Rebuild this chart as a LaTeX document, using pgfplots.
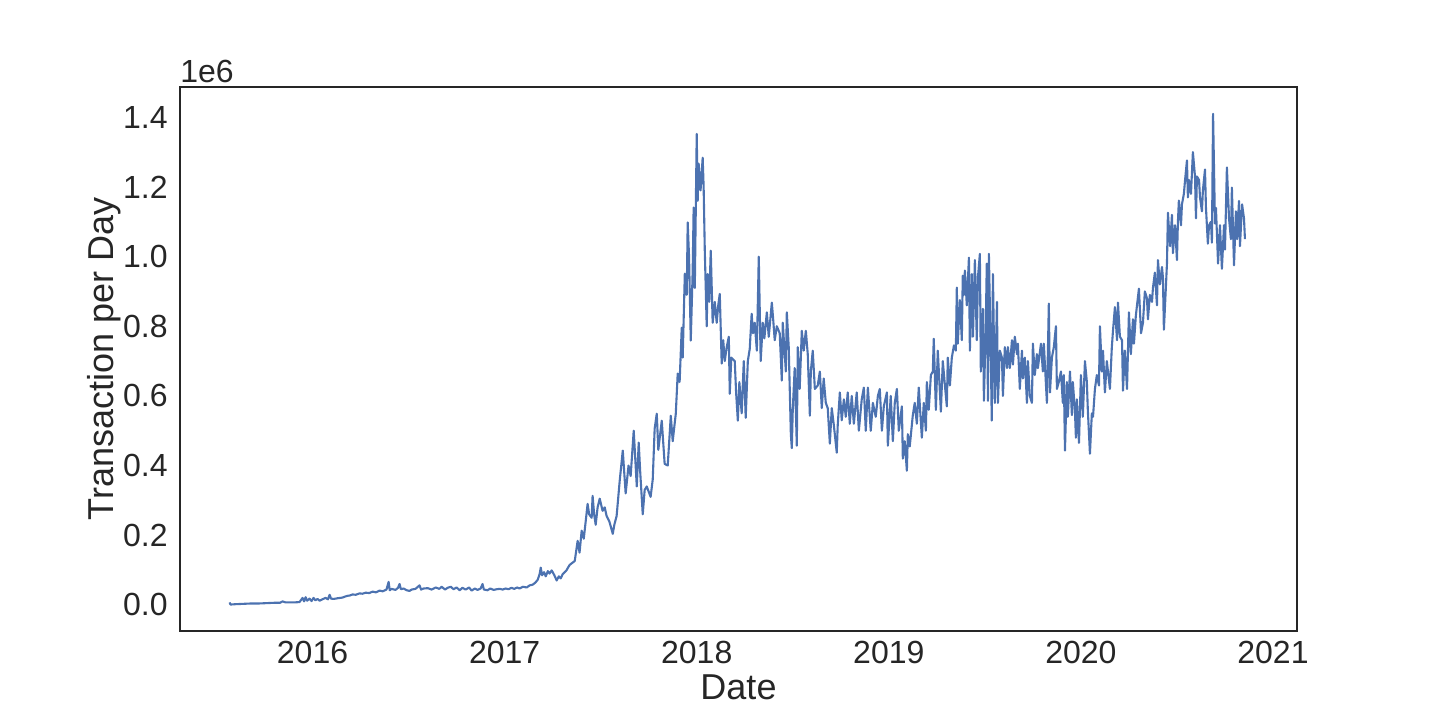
\documentclass[border=0pt]{standalone}
\usepackage{fontspec}
\setmainfont{Liberation Sans}
\usepackage{pgfplots}
\pgfplotsset{compat=1.18}
\definecolor{sbblue}{HTML}{4C72B0}
\definecolor{sbdark}{HTML}{262626}
\begin{document}
\begin{tikzpicture}
\path[use as bounding box] (-90bp,-44.5bp) rectangle (630bp,315.5bp);
\begin{axis}[
  name=ax,
  at={(0,0)}, anchor=south west,
  scale only axis, width=558.5bp, height=272bp,
  xmin=2015.31, xmax=2021.125,
  ymin=-0.075, ymax=1.487,
  axis line style={sbdark, line width=0.85bp},
  xtick={2016,2017,2018,2019,2020,2021},
  xticklabels={2016,2017,2018,2019,2020,2021},
  ytick={0,0.2,0.4,0.6,0.8,1.0,1.2,1.4},
  yticklabels={0.0,0.2,0.4,0.6,0.8,1.0,1.2,1.4},
  major tick length=0pt,
  tick label style={font=\fontsize{16bp}{18bp}\selectfont, text=sbdark, inner sep=0pt},
  xticklabel style={yshift=-5bp},
  yticklabel style={xshift=-6bp},
  every axis x label/.style={at={(axis description cs:0.5,-0.103)}, anchor=center},
  every axis y label/.style={at={(axis description cs:-0.068,0.5)}, anchor=center, rotate=90},
  label style={font=\fontsize{18bp}{21bp}\selectfont, text=sbdark},
  xlabel={Date}, ylabel={Transaction per Day},
]
\addplot[sbblue, line width=1.05bp, line join=round, no marks] table {
2015.568 0.007
2015.573 0.001
2015.600 0.002
2015.640 0.003
2015.680 0.004
2015.720 0.004
2015.760 0.005
2015.800 0.006
2015.830 0.006
2015.844 0.010
2015.860 0.007
2015.900 0.007
2015.932 0.008
2015.948 0.020
2015.956 0.010
2015.964 0.022
2015.972 0.012
2015.984 0.018
2015.995 0.011
2016.005 0.020
2016.015 0.013
2016.026 0.017
2016.037 0.012
2016.047 0.015
2016.068 0.020
2016.080 0.016
2016.089 0.029
2016.096 0.018
2016.110 0.017
2016.130 0.019
2016.156 0.021
2016.170 0.024
2016.182 0.026
2016.195 0.027
2016.208 0.030
2016.225 0.029
2016.245 0.033
2016.260 0.032
2016.276 0.035
2016.295 0.034
2016.313 0.038
2016.330 0.036
2016.349 0.041
2016.365 0.039
2016.385 0.044
2016.396 0.066
2016.402 0.042
2016.411 0.046
2016.432 0.043
2016.445 0.049
2016.453 0.060
2016.460 0.045
2016.474 0.047
2016.490 0.042
2016.505 0.040
2016.516 0.044
2016.536 0.046
2016.557 0.056
2016.565 0.044
2016.578 0.047
2016.600 0.048
2016.620 0.044
2016.641 0.050
2016.660 0.046
2016.672 0.052
2016.690 0.044
2016.703 0.049
2016.720 0.052
2016.734 0.045
2016.750 0.050
2016.766 0.042
2016.780 0.049
2016.797 0.044
2016.815 0.050
2016.828 0.041
2016.845 0.047
2016.859 0.043
2016.875 0.047
2016.885 0.060
2016.892 0.044
2016.911 0.042
2016.925 0.047
2016.943 0.043
2016.960 0.045
2016.974 0.046
2016.990 0.044
2017.005 0.047
2017.020 0.045
2017.036 0.049
2017.050 0.046
2017.065 0.050
2017.078 0.047
2017.095 0.052
2017.115 0.050
2017.130 0.056
2017.146 0.058
2017.160 0.064
2017.172 0.072
2017.182 0.088
2017.188 0.107
2017.195 0.085
2017.205 0.094
2017.214 0.082
2017.225 0.097
2017.234 0.090
2017.245 0.099
2017.258 0.086
2017.271 0.070
2017.282 0.082
2017.292 0.076
2017.302 0.088
2017.313 0.094
2017.323 0.100
2017.331 0.108
2017.339 0.115
2017.365 0.126
2017.380 0.184
2017.390 0.150
2017.401 0.213
2017.412 0.190
2017.432 0.290
2017.440 0.260
2017.453 0.250
2017.458 0.313
2017.466 0.260
2017.474 0.230
2017.484 0.280
2017.495 0.305
2017.510 0.270
2017.521 0.280
2017.531 0.255
2017.545 0.240
2017.563 0.204
2017.571 0.230
2017.583 0.255
2017.599 0.356
2017.615 0.443
2017.630 0.320
2017.645 0.400
2017.656 0.370
2017.672 0.500
2017.688 0.340
2017.698 0.466
2017.706 0.380
2017.719 0.260
2017.729 0.330
2017.740 0.340
2017.760 0.310
2017.771 0.360
2017.781 0.506
2017.792 0.549
2017.800 0.445
2017.818 0.529
2017.833 0.405
2017.849 0.400
2017.865 0.543
2017.875 0.470
2017.891 0.549
2017.901 0.664
2017.911 0.640
2017.922 0.796
2017.927 0.710
2017.938 0.951
2017.948 0.890
2017.953 1.098
2017.960 1.000
2017.969 0.759
2017.979 0.960
2017.984 1.141
2017.990 0.910
2018.000 1.352
2018.005 1.160
2018.010 1.267
2018.020 1.190
2018.031 1.284
2018.036 1.200
2018.042 1.017
2018.052 0.800
2018.057 0.950
2018.065 0.870
2018.073 1.017
2018.083 0.810
2018.094 0.870
2018.104 0.810
2018.112 0.860
2018.120 0.893
2018.130 0.693
2018.138 0.760
2018.146 0.700
2018.156 0.740
2018.167 0.770
2018.172 0.606
2018.180 0.710
2018.198 0.700
2018.205 0.610
2018.214 0.529
2018.222 0.640
2018.234 0.550
2018.245 0.700
2018.255 0.537
2018.266 0.700
2018.276 0.735
2018.286 0.836
2018.293 0.780
2018.302 0.810
2018.313 0.730
2018.323 1.000
2018.333 0.700
2018.344 0.810
2018.352 0.765
2018.365 0.840
2018.375 0.770
2018.391 0.868
2018.398 0.820
2018.406 0.760
2018.417 0.800
2018.432 0.780
2018.443 0.644
2018.448 0.810
2018.464 0.670
2018.469 0.840
2018.479 0.740
2018.490 0.490
2018.495 0.450
2018.500 0.560
2018.510 0.680
2018.521 0.457
2018.526 0.740
2018.536 0.620
2018.547 0.787
2018.557 0.730
2018.568 0.787
2018.578 0.720
2018.589 0.543
2018.594 0.670
2018.604 0.730
2018.615 0.620
2018.630 0.630
2018.641 0.670
2018.651 0.565
2018.661 0.650
2018.672 0.580
2018.682 0.565
2018.693 0.463
2018.703 0.565
2018.714 0.515
2018.729 0.437
2018.734 0.515
2018.745 0.610
2018.755 0.530
2018.766 0.590
2018.776 0.540
2018.786 0.610
2018.797 0.520
2018.807 0.600
2018.818 0.520
2018.833 0.610
2018.844 0.500
2018.859 0.590
2018.870 0.624
2018.880 0.500
2018.891 0.624
2018.906 0.500
2018.917 0.580
2018.932 0.540
2018.943 0.600
2018.953 0.620
2018.964 0.500
2018.974 0.570
2018.990 0.610
2018.995 0.457
2019.010 0.600
2019.021 0.470
2019.031 0.580
2019.042 0.620
2019.052 0.500
2019.068 0.570
2019.073 0.420
2019.083 0.470
2019.094 0.385
2019.099 0.490
2019.109 0.455
2019.125 0.545
2019.135 0.580
2019.146 0.520
2019.156 0.624
2019.164 0.550
2019.172 0.480
2019.182 0.580
2019.193 0.500
2019.198 0.640
2019.208 0.560
2019.219 0.660
2019.229 0.670
2019.234 0.764
2019.245 0.560
2019.255 0.730
2019.271 0.555
2019.281 0.700
2019.292 0.630
2019.302 0.570
2019.307 0.710
2019.318 0.630
2019.328 0.710
2019.339 0.745
2019.349 0.730
2019.354 0.911
2019.359 0.750
2019.370 0.875
2019.380 0.760
2019.385 0.945
2019.391 0.890
2019.396 0.960
2019.406 0.860
2019.417 0.997
2019.422 0.730
2019.432 0.950
2019.438 0.770
2019.448 0.990
2019.458 0.760
2019.464 0.940
2019.474 1.008
2019.479 0.670
2019.490 0.850
2019.495 0.586
2019.505 0.810
2019.510 0.980
2019.516 0.586
2019.521 1.008
2019.531 0.710
2019.536 0.529
2019.542 0.950
2019.552 0.580
2019.563 0.870
2019.568 0.580
2019.578 0.730
2019.589 0.710
2019.594 0.600
2019.604 0.740
2019.615 0.680
2019.620 0.740
2019.630 0.680
2019.641 0.760
2019.646 0.690
2019.656 0.770
2019.667 0.720
2019.672 0.750
2019.682 0.620
2019.693 0.730
2019.698 0.650
2019.708 0.710
2019.719 0.580
2019.724 0.700
2019.734 0.600
2019.745 0.580
2019.750 0.750
2019.760 0.660
2019.771 0.720
2019.776 0.680
2019.792 0.750
2019.802 0.670
2019.807 0.750
2019.823 0.580
2019.833 0.865
2019.839 0.610
2019.849 0.710
2019.859 0.740
2019.870 0.800
2019.875 0.620
2019.885 0.640
2019.896 0.670
2019.906 0.580
2019.911 0.660
2019.917 0.443
2019.927 0.640
2019.932 0.540
2019.943 0.670
2019.953 0.545
2019.958 0.640
2019.969 0.555
2019.974 0.480
2019.979 0.590
2019.990 0.465
2020.000 0.660
2020.010 0.540
2020.021 0.700
2020.031 0.640
2020.036 0.560
2020.047 0.434
2020.057 0.550
2020.063 0.540
2020.073 0.620
2020.083 0.660
2020.094 0.630
2020.099 0.800
2020.109 0.670
2020.115 0.730
2020.125 0.610
2020.135 0.700
2020.141 0.670
2020.151 0.620
2020.161 0.740
2020.167 0.787
2020.177 0.855
2020.188 0.760
2020.193 0.868
2020.203 0.770
2020.214 0.760
2020.219 0.615
2020.229 0.730
2020.240 0.620
2020.250 0.840
2020.260 0.720
2020.271 0.820
2020.276 0.750
2020.286 0.830
2020.292 0.860
2020.302 0.908
2020.313 0.780
2020.323 0.810
2020.333 0.900
2020.344 0.880
2020.349 0.820
2020.359 0.890
2020.370 0.870
2020.375 0.910
2020.385 0.954
2020.396 0.860
2020.401 0.990
2020.411 0.920
2020.422 0.970
2020.427 0.940
2020.432 0.790
2020.443 0.920
2020.448 0.980
2020.453 1.126
2020.464 1.030
2020.474 1.120
2020.479 1.010
2020.490 1.090
2020.500 0.990
2020.505 1.100
2020.510 1.161
2020.521 1.090
2020.526 1.150
2020.536 1.180
2020.542 1.218
2020.552 1.276
2020.557 1.170
2020.563 1.220
2020.573 1.180
2020.578 1.240
2020.583 1.300
2020.594 1.230
2020.599 1.110
2020.604 1.230
2020.615 1.220
2020.620 1.170
2020.630 1.130
2020.635 1.190
2020.646 1.250
2020.651 1.140
2020.661 1.037
2020.667 1.090
2020.677 1.100
2020.682 1.040
2020.688 1.410
2020.698 1.095
2020.703 1.140
2020.714 0.980
2020.724 1.090
2020.734 0.965
2020.745 1.090
2020.750 1.020
2020.760 1.256
2020.771 1.110
2020.781 1.050
2020.786 1.198
2020.797 0.975
2020.807 1.130
2020.813 1.050
2020.823 1.160
2020.828 1.030
2020.839 1.150
2020.849 1.110
2020.854 1.050
};
\end{axis}
\node[anchor=base west, inner sep=0pt, font=\fontsize{16bp}{18bp}\selectfont, text=sbdark] at ([yshift=2.2bp]ax.north west) {1e6};
\end{tikzpicture}
\end{document}
